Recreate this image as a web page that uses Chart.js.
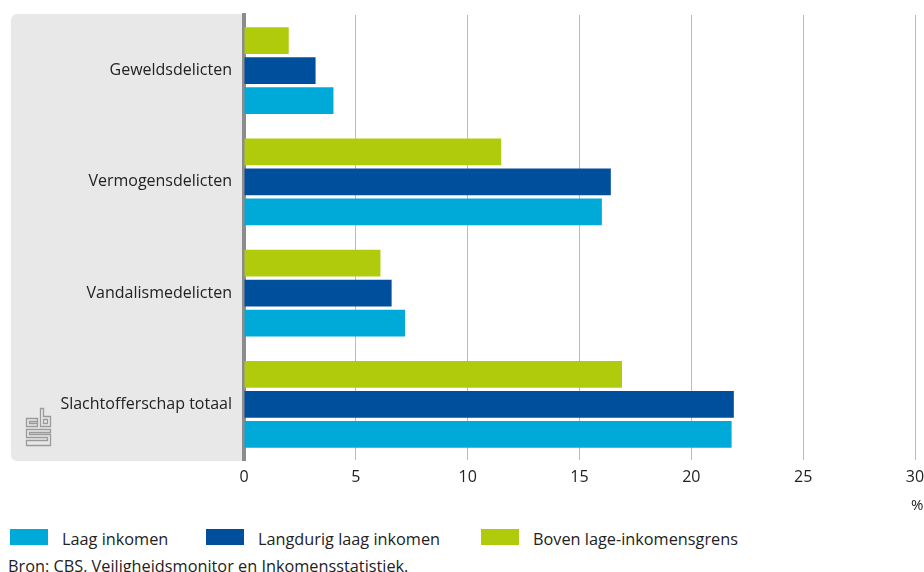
<!DOCTYPE html>
<html>
<head>
<meta charset="utf-8">
<script src="https://cdn.jsdelivr.net/npm/chart.js@4/dist/chart.umd.min.js"></script>
<style>
  html, body { margin: 0; padding: 0; background: #fff; }
  #wrap { position: relative; width: 924px; height: 572px; overflow: hidden; font-family: "Open Sans", sans-serif; color: #222; }
  #box { position: absolute; left: 0; top: 0; width: 924px; height: 500px; }
  #unit { position: absolute; left: 911px; top: 494px; font-size: 15px; }
  .leg { position: absolute; top: 529px; font-size: 16.3px; line-height: 16px; white-space: nowrap; }
  .leg span.sw { position: absolute; left: 0; top: 0; width: 38px; height: 16px; }
  .leg span.tx { position: absolute; top: 2px; }
  #source { position: absolute; left: 8px; top: 555px; font-size: 16.3px; white-space: nowrap; }
</style>
</head>
<body>
<div id="wrap">
  <div id="box"><canvas id="myChart"></canvas></div>
  <div id="unit">%</div>
  <div id="legend"></div>
  <div id="source">Bron: CBS, Veiligheidsmonitor en Inkomensstatistiek.</div>
</div>
<script>
let categories = ['Geweldsdelicten', 'Vermogensdelicten', 'Vandalismedelicten', 'Slachtofferschap totaal'];
let laagInkomen = [4.0, 16.0, 7.2, 21.8];
let langdurigLaag = [3.2, 16.4, 6.6, 21.9];
let bovenGrens = [2.0, 11.5, 6.1, 16.9];
let seriesNames = ['Laag inkomen', 'Langdurig laag inkomen', 'Boven lage-inkomensgrens'];
let seriesColors = ['#00aad8', '#004f9c', '#b0cb0b'];
let xTicks = [0, 5, 10, 15, 20, 25, 30];

//grey panel behind the category labels + cbs logo
let panelPlugin = {
    id: 'panel',
    beforeDraw: function(chart) {
        let ctx = chart.ctx;
        let area = chart.chartArea;
        ctx.save();
        ctx.fillStyle = '#e8e8e8';
        ctx.beginPath();
        ctx.roundRect(11, 14, area.left - 11, area.bottom - 13, [6, 0, 0, 6]);
        ctx.fill();

        ctx.strokeStyle = '#9a9a9a';
        ctx.lineWidth = 1.3;
        ctx.beginPath();
        // c
        ctx.rect(26.5, 418.5, 11, 8);
        ctx.moveTo(37.5, 421.5); ctx.lineTo(29.5, 421.5); ctx.lineTo(29.5, 423.5); ctx.lineTo(37.5, 423.5);
        // b
        ctx.moveTo(40.5, 408.5); ctx.lineTo(40.5, 426.5); ctx.lineTo(50.5, 426.5); ctx.lineTo(50.5, 416.5); ctx.lineTo(43.5, 416.5); ctx.lineTo(43.5, 408.5); ctx.closePath();
        ctx.rect(43.5, 419.5, 4, 4);
        // s
        ctx.moveTo(50.5, 429.5); ctx.lineTo(26.5, 429.5); ctx.lineTo(26.5, 437.5); ctx.lineTo(47.5, 437.5); ctx.lineTo(47.5, 440.5); ctx.lineTo(26.5, 440.5);
        ctx.lineTo(26.5, 445.5); ctx.lineTo(50.5, 445.5); ctx.lineTo(50.5, 434.5); ctx.lineTo(29.5, 434.5); ctx.lineTo(29.5, 432.5); ctx.lineTo(50.5, 432.5); ctx.closePath();
        ctx.stroke();
        ctx.restore();
    }
};

document.addEventListener('DOMContentLoaded', function() {
    //legend
    let legend = document.getElementById('legend');
    let legendX = [10, 206, 481];
    seriesNames.forEach(function(name, i) {
        let item = document.createElement('div');
        item.className = 'leg';
        item.style.left = legendX[i] + 'px';
        item.innerHTML = '<span class="sw" style="background:' + seriesColors[i] + '"></span><span class="tx" style="left:52px">' + name + '</span>';
        legend.appendChild(item);
    });

    //chart
    let values = [laagInkomen, langdurigLaag, bovenGrens];
    let datasets = [2, 1, 0].map(function(i) {
        return {
            label: seriesNames[i],
            data: values[i],
            backgroundColor: seriesColors[i],
            borderWidth: 0,
            barPercentage: 0.89,
            categoryPercentage: 0.808
        };
    });

    let ctx = document.getElementById('myChart').getContext('2d');
    let chart = new Chart(ctx, {
        type: 'bar',
        data: {
            labels: categories,
            datasets: datasets
        },
        options: {
            indexAxis: 'y',
            responsive: true,
            maintainAspectRatio: false,
            animation: false,
            layout: {
                padding: { top: 15, right: 9, bottom: 0, left: 0 }
            },
            plugins: {
                legend: { display: false },
                tooltip: { enabled: false }
            },
            scales: {
                x: {
                    min: 0,
                    max: 30,
                    afterBuildTicks: function(scale) {
                        scale.ticks = xTicks.map(function(v) { return { value: v }; });
                    },
                    afterFit: function(scale) {
                        scale.height = 40;
                        scale.paddingLeft = 0;
                        scale.paddingRight = 0;
                    },
                    grid: { color: '#bdbdbd', lineWidth: 1, drawTicks: false },
                    border: { display: false },
                    ticks: {
                        padding: 8,
                        color: '#222',
                        font: { family: 'Open Sans', size: 16 }
                    }
                },
                y: {
                    afterFit: function(scale) {
                        scale.width = 244;
                        scale.paddingTop = 0;
                        scale.paddingBottom = 0;
                    },
                    grid: { display: false, drawTicks: false },
                    border: { display: true, color: '#8c8c8c', width: 4 },
                    ticks: {
                        padding: 12,
                        color: '#222',
                        font: { family: 'Open Sans', size: 16 }
                    }
                }
            }
        },
        plugins: [panelPlugin]
    });
});
</script>
</body>
</html>
